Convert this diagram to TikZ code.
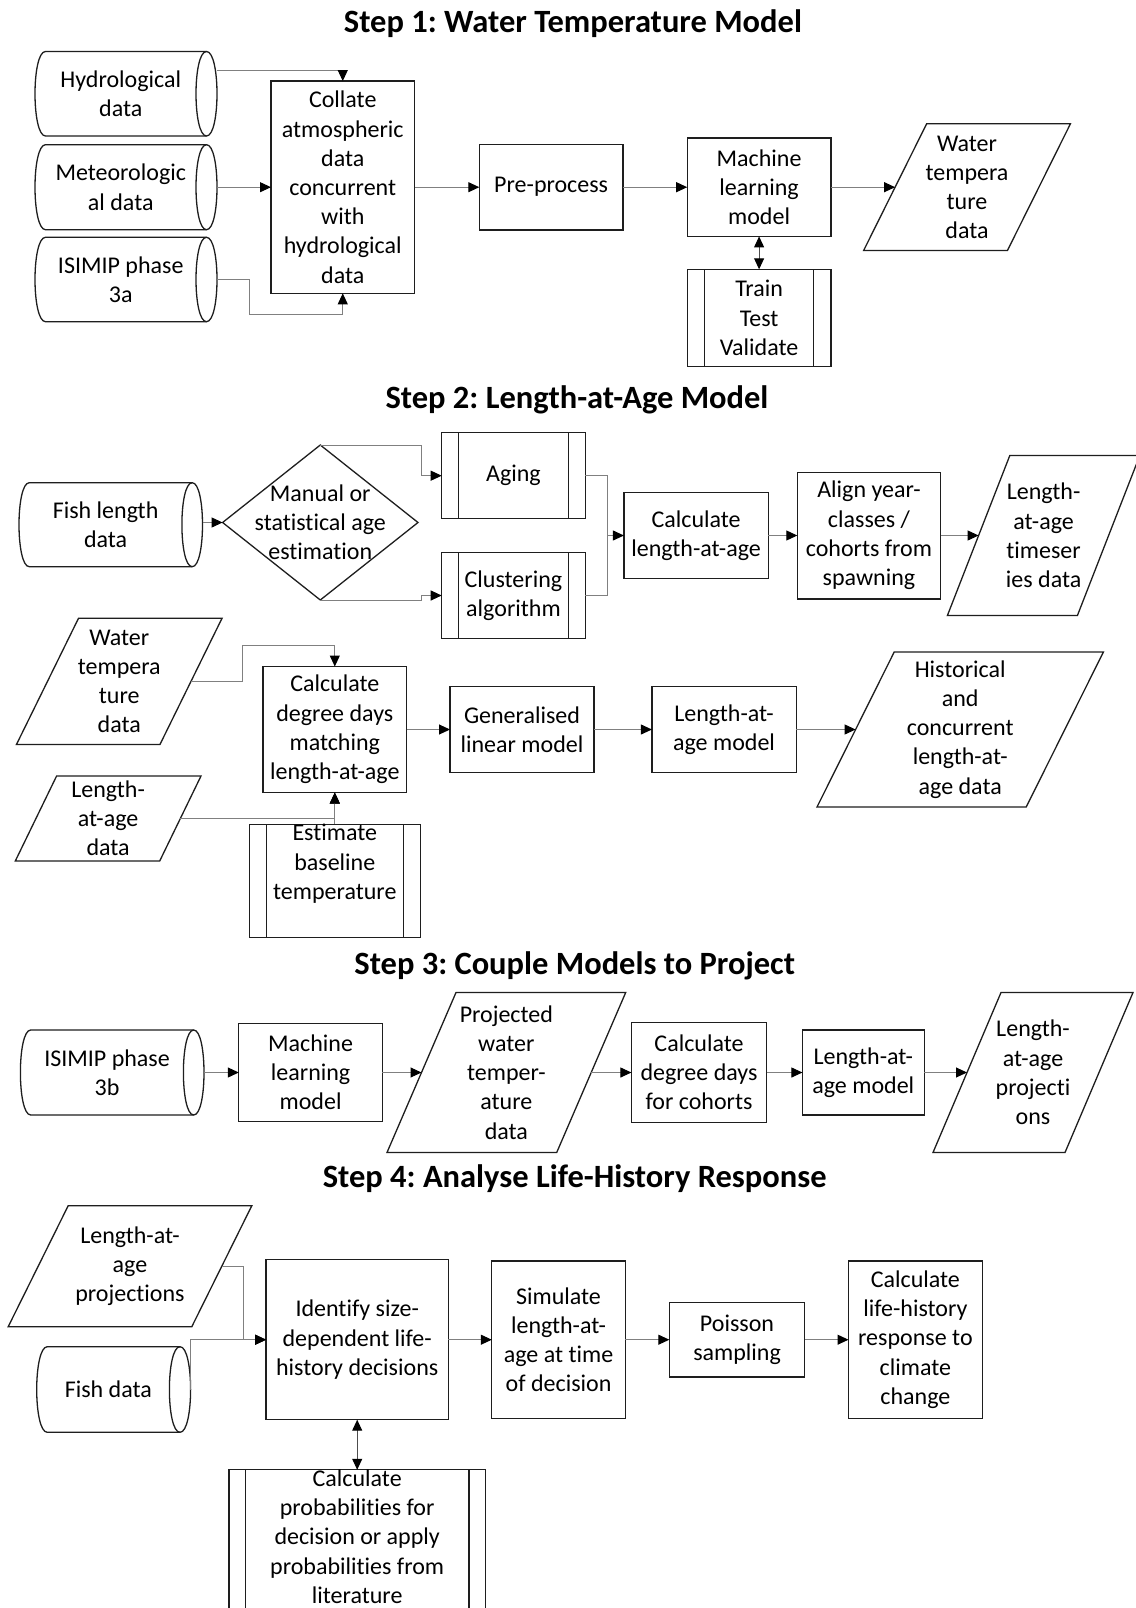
\documentclass[tikz,border=0pt]{standalone}
\usepackage{fontspec}
\setmainfont[Ligatures=NoCommon]{Carlito}
\usetikzlibrary{arrows.meta,calc}
\frenchspacing
\definecolor{linegray}{RGB}{128,128,128}
\definecolor{shapeblack}{RGB}{30,30,30}
\newcommand\bodyf{\fontsize{24}{29.2}\selectfont}
\newcommand\titlef{\fontsize{32.5}{38}\selectfont\bfseries}
% horizontal storage cylinder drawn round a node: #1 node, #2 half-width of the end ellipse
\newcommand\cylshape[2]{%
  \draw[shapeline] ([xshift=#2]#1.north west) -- (#1.north east)
    .. controls ([xshift=1.3333*#2]#1.north east) and ([xshift=1.3333*#2]#1.south east) .. (#1.south east)
    -- ([xshift=#2]#1.south west)
    .. controls ([xshift=-0.3333*#2]#1.south west) and ([xshift=-0.3333*#2]#1.north west) .. ([xshift=#2]#1.north west);
  \draw[shapeline] (#1.north east)
    .. controls ([xshift=-1.3333*#2]#1.north east) and ([xshift=-1.3333*#2]#1.south east) .. (#1.south east);
}
% parallelogram drawn round a node: #1 node, #2 slant
\newcommand\parashape[2]{%
  \draw[shapeline] ([xshift=#2]#1.north west) -- (#1.north east) -- ([xshift=-#2]#1.south east) -- (#1.south west) -- cycle;
}
\tikzset{
  shapeline/.style={draw=shapeblack, line width=1.3pt, line join=miter},
  box/.style={shapeline, rectangle, align=center, font=\bodyf, inner sep=0pt, outer sep=0pt},
  pproc/.style={box, path picture={
      \draw[shapeline] ([xshift=#1]path picture bounding box.north west) -- ([xshift=#1]path picture bounding box.south west)
                       ([xshift=-#1]path picture bounding box.north east) -- ([xshift=-#1]path picture bounding box.south east);}},
  pproc/.default=17pt,
  plain/.style={rectangle, align=center, font=\bodyf, inner sep=0pt, outer sep=0pt},
  conn/.style={draw=linegray, line width=1pt, -{Triangle[length=11pt,width=10pt,color=black]}},
  conn2/.style={draw=linegray!60!black, line width=1pt, {Triangle[length=11pt,width=10pt,color=black]}-{Triangle[length=11pt,width=10pt,color=black]}},
  title/.style={font=\titlef, inner sep=0pt},
}
\begin{document}
\begin{tikzpicture}[x=1pt,y=-1pt]
\fill[white] (0,0) rectangle (1135,1608);
\useasboundingbox (0,0) rectangle (1135,1608);

% ---------------- Step 1
\node[title] (t1) at (573,23.5) {Step 1: Water Temperature Model};
\node[plain, minimum width=171.5pt, minimum height=84.5pt] (hyd) at (120.75,93.75) {Hydrological\\data};
\cylshape{hyd}{10.5pt}
\node[plain, minimum width=171.5pt, minimum height=85pt] (met) at (120.75,187.2) {Meteorologic\\al data};
\cylshape{met}{10.5pt}
\node[plain, minimum width=171.5pt, minimum height=84.4pt] (isa) at (120.75,279.5) {ISIMIP phase\\3a};
\cylshape{isa}{10.5pt}
\node[box, minimum width=143.5pt, minimum height=212.3pt] (col) at (342.75,187.2) {Collate\\atmospheric\\data\\concurrent\\with\\hydrological\\data};
\node[box, minimum width=143.7pt, minimum height=85.7pt] (pre) at (551.15,187.2) {Pre-process};
\node[box, minimum width=143.8pt, minimum height=98.4pt] (ml1) at (759.1,187.2) {Machine\\learning\\model};
\node[plain, minimum width=206.8pt, minimum height=126.7pt] (wt1) at (967,187.2) {Water\\tempera\\ture\\data};
\parashape{wt1}{63pt}
\node[pproc=17.4pt, minimum width=143.8pt, minimum height=97.4pt] (ttv) at (759.1,318) {Train\\Test\\Validate};

\coordinate (hydR) at (217,70.7);
\draw[conn] (hydR) -| (col.north);
\draw[conn] ([xshift=10.5pt]met.east) -- (col.west);
\coordinate (j1) at (249.5,314.3);
\draw[conn] ([xshift=10.5pt]isa.east) -| (j1) -| (col.south);
\draw[conn] (col.east) -- (pre.west);
\draw[conn] (pre.east) -- (ml1.west);
\draw[conn] (ml1.east) -- ([xshift=31.5pt]wt1.west);
\draw[conn2] (ml1.south) -- (ttv.north);

% ---------------- Step 2
\node[title] (t2) at (577,399.8) {Step 2: Length-at-Age Model};
\node[plain, minimum width=173.2pt, minimum height=84pt] (fishl) at (105.6,524.7) {Fish length\\data};
\cylshape{fishl}{10.3pt}
\node[plain, minimum width=195.4pt, minimum height=155pt] (dia) at (320.3,522.5) {Manual or\\statistical age\\estimation};
\draw[shapeline] (dia.north) -- (dia.east) -- (dia.south) -- (dia.west) -- cycle;
\node[pproc, minimum width=143.5pt, minimum height=86pt] (aging) at (513.45,475.7) {Aging};
\node[pproc, minimum width=143.5pt, minimum height=85.6pt] (clus) at (513.45,595.5) {Clustering\\algorithm};
\node[box, minimum width=144.4pt, minimum height=86pt] (claa) at (696.1,535.5) {Calculate\\length-at-age};
\node[box, minimum width=143.3pt, minimum height=126.7pt] (align) at (868.95,535.5) {Align year-\\classes /\\cohorts from\\spawning};
\node[plain, minimum width=192.4pt, minimum height=160pt] (ts) at (1043.6,535.5) {Length-\\at-age\\timeser\\ies data};
\parashape{ts}{62.4pt}

\coordinate (fishlR) at (202.5,522.5);
\draw[conn] (fishlR) -- (dia.west);
\coordinate (ja) at (421,475.7);
\coordinate (jc) at (421,595.5);
\draw[conn] (dia.north) -| (ja) -- (aging.west);
\draw[conn] (dia.south) -| (jc) -- (clus.west);
\coordinate (jm) at (607.8,535.5);
\draw[draw=linegray, line width=1pt] (aging.east) -| (jm) (clus.east) -| (jm);
\draw[conn] (jm) -- (claa.west);
\draw[conn] (claa.east) -- (align.west);
\draw[conn] (align.east) -- ([xshift=31.2pt]ts.west);

\node[plain, minimum width=205.5pt, minimum height=126.1pt] (wt2) at (119.25,681.35) {Water\\tempera\\ture\\data};
\parashape{wt2}{62pt}
\node[plain, minimum width=185.7pt, minimum height=85pt] (laad) at (108.15,818.5) {Length-\\at-age\\data};
\parashape{laad}{41.3pt}
\node[box, minimum width=143.5pt, minimum height=126pt] (cdd) at (334.8,729.5) {Calculate\\degree days\\matching\\length-at-age};
\node[pproc=17.2pt, minimum width=171.1pt, minimum height=108.3pt] (est) at (334.8,880.85) {Estimate\\baseline\\temperature\\\strut};
\node[box, minimum width=144pt, minimum height=85.6pt] (glm) at (522,729.5) {Generalised\\linear model};
\node[box, minimum width=144.3pt, minimum height=86pt] (laam) at (724.05,729.5) {Length-at-\\age model};
\node[plain, minimum width=286.4pt, minimum height=155pt] (hist) at (960.2,729.5) {Historical\\and\\concurrent\\length-at-\\age data};
\parashape{hist}{77.2pt}

\coordinate (j2) at (242,645);
\draw[conn] ([xshift=-31pt]wt2.east) -| (j2) -| (cdd.north);
\draw[conn] ([xshift=-20.65pt]laad.east) -| (cdd.south);
\draw[conn] (est.north) -- (cdd.south);
\draw[conn] (cdd.east) -- (glm.west);
\draw[conn] (glm.east) -- (laam.west);
\draw[conn] (laam.east) -- ([xshift=38.6pt]hist.west);

% ---------------- Step 3
\node[title] (t3) at (574.7,965.8) {Step 3: Couple Models to Project};
\node[plain, minimum width=173.3pt, minimum height=85pt] (isb) at (107.05,1072.5) {ISIMIP phase\\3b};
\cylshape{isb}{10.3pt}
\node[box, minimum width=143.6pt, minimum height=98.4pt] (ml2) at (310.6,1072.5) {Machine\\learning\\model};
\node[plain, minimum width=238.7pt, minimum height=160pt] (pwt) at (506.35,1072.5) {Projected\\water\\temper-\\ature\\data};
\parashape{pwt}{69pt}
\node[box, minimum width=135.2pt, minimum height=99.4pt] (cddc) at (699,1072.5) {Calculate\\degree days\\for cohorts};
\node[box, minimum width=121.8pt, minimum height=85pt] (laam2) at (863.3,1072.5) {Length-at-\\age model};
\node[plain, minimum width=200pt, minimum height=160pt] (lap) at (1033,1072.5) {Length-\\at-age\\projecti\\ons};
\parashape{lap}{68pt}

\draw[conn] ([xshift=10.3pt]isb.east) -- (ml2.west);
\draw[conn] (ml2.east) -- ([xshift=34.5pt]pwt.west);
\draw[conn] ([xshift=-34.5pt]pwt.east) -- (cddc.west);
\draw[conn] (cddc.east) -- (laam2.west);
\draw[conn] (laam2.east) -- ([xshift=34pt]lap.west);

% ---------------- Step 4
\node[title] (t4) at (574.7,1179) {Step 4: Analyse Life-History Response};
\node[plain, minimum width=243.6pt, minimum height=121pt] (lap2) at (130,1266.2) {Length-at-\\age\\projections};
\parashape{lap2}{60pt}
\node[plain, minimum width=143.3pt, minimum height=85.6pt] (fishd) at (108.35,1389.5) {Fish data};
\cylshape{fishd}{10.6pt}
\node[box, minimum width=182.2pt, minimum height=160pt] (ident) at (357.2,1339.7) {Identify size-\\dependent life-\\history decisions};
\node[box, minimum width=133.5pt, minimum height=157.3pt] (sim) at (558.55,1339.7) {Simulate\\length-at-\\age at time\\of decision};
\node[box, minimum width=135.5pt, minimum height=74.4pt] (poi) at (737.05,1339.7) {Poisson\\sampling};
\node[box, minimum width=133.8pt, minimum height=157.6pt] (clh) at (915.4,1339.7) {Calculate\\life-history\\response to\\climate\\change};
\node[pproc=16.7pt, minimum width=256.7pt, minimum height=138pt, text depth=7pt] (prob) at (357.2,1540) {Calculate\\probabilities for\\decision or apply\\probabilities from\\literature};

\coordinate (j3) at (243.7,1339.7);
\draw[conn] ([xshift=-30pt]lap2.east) -| (j3) -- (ident.west);
\draw[conn] ([xshift=10.6pt]fishd.east) |- (ident.west);
\draw[conn] (ident.east) -- (sim.west);
\draw[conn] (sim.east) -- (poi.west);
\draw[conn] (poi.east) -- (clh.west);
\draw[conn2] (ident.south) -- (prob.north);
\end{tikzpicture}
\end{document}
